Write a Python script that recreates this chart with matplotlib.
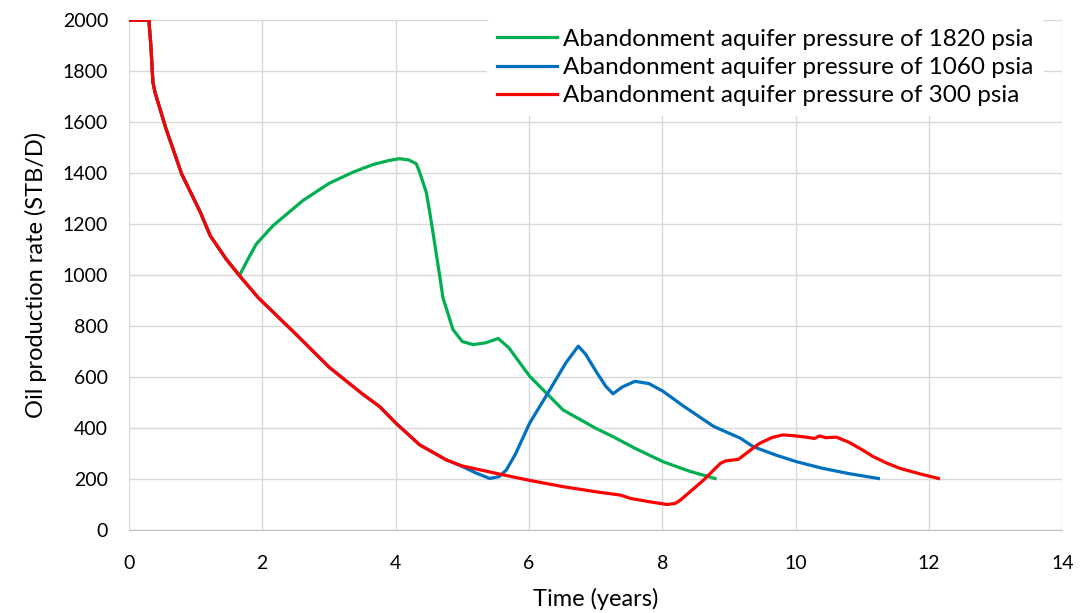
import matplotlib.pyplot as plt

plt.rcParams["font.family"] = ["Lato", "DejaVu Sans"]

# red: 300 psia
t_300 = [0, 0.3, 0.33, 0.36, 0.39, 0.55, 0.79, 1.07, 1.22, 1.46, 1.64, 1.94, 2.5, 3.0, 3.5,
         3.76, 4.0, 4.36, 4.76, 5.0, 5.51, 6.0, 6.51, 7.0, 7.37, 7.52, 7.8, 7.97, 8.07, 8.19,
         8.27, 8.62, 8.87, 8.95, 9.14, 9.3, 9.46, 9.65, 9.81, 10.0, 10.16, 10.28, 10.36, 10.45,
         10.61, 10.8, 11.0, 11.16, 11.36, 11.56, 11.85, 12.14]
q_300 = [2000, 2000, 1900, 1758, 1719, 1580, 1398, 1248, 1155, 1063, 1004, 912, 770, 640, 535,
         485, 421, 335, 276, 252, 223, 196, 171, 151, 138, 125, 112, 105, 101, 105,
         118, 197, 262, 272, 278, 310, 341, 364, 374, 370, 365, 360, 370, 363,
         365, 345, 315, 289, 264, 243, 222, 203]

# blue: 1060 psia
t_1060 = [0, 0.3, 0.33, 0.36, 0.39, 0.55, 0.79, 1.07, 1.22, 1.46, 1.64, 1.94, 2.5, 3.0, 3.5,
          3.76, 4.0, 4.36, 4.76, 5.01, 5.2, 5.41, 5.55, 5.66, 5.8, 6.01, 6.3, 6.55, 6.74,
          6.85, 7.02, 7.15, 7.26, 7.4, 7.59, 7.8, 8.01, 8.3, 8.77, 9.17, 9.36, 9.7, 10.01,
          10.4, 10.8, 11.24]
q_1060 = [2000, 2000, 1900, 1758, 1719, 1580, 1398, 1248, 1155, 1063, 1004, 912, 770, 640, 535,
          485, 421, 335, 276, 249, 225, 203, 210, 236, 300, 420, 545, 655, 722,
          690, 617, 565, 535, 562, 584, 575, 545, 490, 407, 361, 328, 295, 269,
          243, 222, 203]

# green: 1820 psia
t_1820 = [0, 0.3, 0.33, 0.36, 0.39, 0.55, 0.79, 1.07, 1.22, 1.46, 1.66, 1.78, 1.91, 2.16, 2.61,
          3.0, 3.36, 3.66, 3.9, 4.06, 4.2, 4.31, 4.36, 4.46, 4.51, 4.56, 4.66, 4.71, 4.86,
          5.0, 5.16, 5.35, 5.54, 5.7, 6.01, 6.51, 7.0, 7.26, 7.6, 8.01, 8.4, 8.79]
q_1820 = [2000, 2000, 1900, 1758, 1719, 1580, 1398, 1248, 1155, 1063, 1000, 1060, 1122, 1194, 1293,
          1360, 1404, 1434, 1450, 1457, 1452, 1437, 1404, 1325, 1250, 1168, 1000, 912, 787,
          740, 728, 735, 752, 715, 604, 472, 400, 367, 320, 269, 232, 203]

fig = plt.figure(figsize=(10.83, 6.13), dpi=100)
ax = fig.add_axes([0.119, 0.135, 0.862, 0.832])

ax.plot(t_1820, q_1820, color="#00B050", lw=2.3, label="Abandonment aquifer pressure of 1820 psia", zorder=3)
ax.plot(t_1060, q_1060, color="#0070C0", lw=2.3, label="Abandonment aquifer pressure of 1060 psia", zorder=3)
ax.plot(t_300, q_300, color="#FF0000", lw=2.3, label="Abandonment aquifer pressure of 300 psia", zorder=4)

ax.set_xlim(0, 14)
ax.set_ylim(0, 2000)
ax.set_xticks(range(0, 15, 2))
ax.set_yticks(range(0, 2001, 200))
ax.grid(color="#d9d9d9", lw=1)
ax.set_axisbelow(True)
for s in ["top", "right", "left"]:
    ax.spines[s].set_visible(False)
ax.spines["bottom"].set_color("#bfbfbf")
ax.tick_params(axis="x", length=0, labelsize=14, pad=18)
ax.tick_params(axis="y", length=0, labelsize=14, pad=15)
ax.set_xlabel("Time (years)", fontsize=17, labelpad=11)
ax.set_ylabel("Oil production rate (STB/D)", fontsize=17, labelpad=11)

leg = ax.legend(loc="upper right", bbox_to_anchor=(0.985, 1.012), fontsize=17.5, frameon=True,
                handlelength=2.5, handletextpad=0.25, labelspacing=0.3, borderaxespad=0.2)
leg.get_frame().set_edgecolor("none")
leg.get_frame().set_facecolor("white")
leg.get_frame().set_alpha(1)

fig.savefig("out.png", dpi=100)
